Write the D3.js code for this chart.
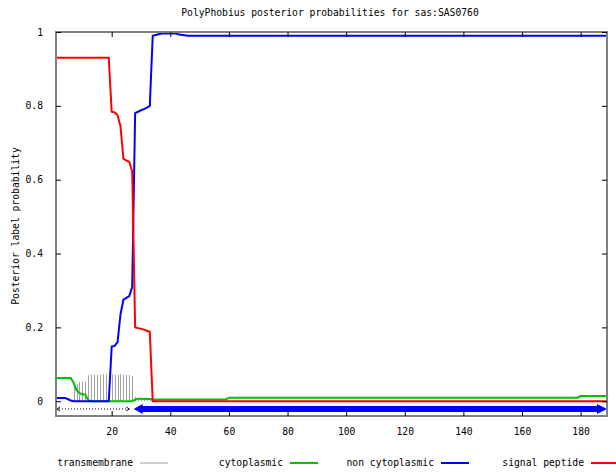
<!DOCTYPE html>
<html>
<head>
<meta charset="utf-8">
<script src="https://cdn.jsdelivr.net/npm/d3@7"></script>
<style>
  html, body { margin: 0; padding: 0; background: #fff; }
  svg { display: block; }
  text { font-family: "DejaVu Sans Mono", "Liberation Mono", monospace; font-size: 9.7px; fill: #000; }
</style>
</head>
<body>
<svg id="chart" width="616" height="472"></svg>
<script>
// PolyPhobius posterior label probabilities along the sequence of sas:SAS0760

const chartTitle = "PolyPhobius posterior probabilities for sas:SAS0760";
const yLabel = "Posterior label probability";

// Tick labels
const xTicks = [20, 40, 60, 80, 100, 120, 140, 160, 180];
const yTicks = [0, 0.2, 0.4, 0.6, 0.8, 1];
const seqLength = 189;

// Signal peptide (red): residue positions and probabilities
const signalPos = [1, 19, 20, 21, 22, 23, 24, 25, 26, 27, 28, 29, 30, 31, 32, 33, 34, 189];
const signalVal = [0.93, 0.93, 0.784, 0.782, 0.775, 0.745, 0.657, 0.652, 0.648, 0.622, 0.2, 0.198, 0.196, 0.194, 0.191, 0.188, 0.0, 0.0];

// Non cytoplasmic (blue)
const nonCytoPos = [1, 4, 5, 6, 7, 19, 20, 21, 22, 23, 24, 25, 26, 27, 28, 29, 30, 31, 32, 33, 34, 35, 37, 42, 43, 46, 189];
const nonCytoVal = [0.009, 0.009, 0.006, 0.002, 0, 0, 0.148, 0.15, 0.16, 0.235, 0.275, 0.28, 0.285, 0.31, 0.78, 0.784, 0.788, 0.791, 0.795, 0.8, 0.99, 0.992, 0.996, 0.996, 0.993, 0.99, 0.99];

// Cytoplasmic (green)
const cytoPos = [1, 6, 7, 8, 9, 10, 11, 12, 13, 27, 28, 29, 33, 34, 59, 60, 179, 180, 189];
const cytoVal = [0.063, 0.063, 0.05, 0.03, 0.022, 0.019, 0.018, 0.003, 0, 0, 0.004, 0.007, 0.006, 0.005, 0.005, 0.0095, 0.0095, 0.014, 0.014];

// Transmembrane (grey impulses), non-zero residues only
const tmPos = [7, 8, 9, 10, 11, 12, 13, 14, 15, 16, 17, 18, 19, 20, 21, 22, 23, 24, 25, 26, 27, 28, 29, 30, 31, 32, 33];
const tmVal = [0.04, 0.046, 0.053, 0.054, 0.054, 0.07, 0.072, 0.072, 0.072, 0.072, 0.072, 0.072, 0.072, 0.072, 0.072, 0.072, 0.072, 0.072, 0.072, 0.071, 0.068, 0.012, 0.009, 0.007, 0.006, 0.006, 0.005];

// Predicted topology segments drawn under the curves
const segStart = [1, 27.5];
const segEnd = [26, 189];
const segType = ["signal", "noncyto"];

// Legend
const legendNames = ["transmembrane", "cytoplasmic", "non cytoplasmic", "signal peptide"];
const legendColors = ["#a0a0a0", "#00c000", "#0000ff", "#ff0000"];

const svg = d3.select("#chart");
const plotL = 56, plotR = 607, plotT = 32, plotB = 416;

const x = d3.scaleLinear().domain([1, seqLength]).range([plotL, plotR]);
const y = d3.scaleLinear().domain([-0.04, 1]).range([plotB, plotT]);

svg.append("defs").append("clipPath").attr("id", "plotClip")
  .append("rect").attr("x", plotL).attr("y", plotT).attr("width", plotR - plotL).attr("height", plotB - plotT);

// Title
svg.append("text").attr("x", 330).attr("y", 16).attr("text-anchor", "middle").text(chartTitle);

// Y axis label
svg.append("text")
  .attr("transform", "translate(19,226) rotate(-90)")
  .attr("text-anchor", "middle")
  .text(yLabel);

const plot = svg.append("g").attr("clip-path", "url(#plotClip)");

// Transmembrane impulses
plot.selectAll("line.tm").data(tmPos.map((p, i) => [p, tmVal[i]])).enter()
  .append("line").attr("class", "tm")
  .attr("x1", d => Math.round(x(d[0])) + 0.5).attr("x2", d => Math.round(x(d[0])) + 0.5)
  .attr("y1", y(0)).attr("y2", d => y(d[1]))
  .attr("stroke", legendColors[0]).attr("stroke-width", 1);

const line = d3.line().x(d => x(d[0])).y(d => y(d[1]));
const series = [
  [cytoPos, cytoVal, legendColors[1]],
  [nonCytoPos, nonCytoVal, legendColors[2]],
  [signalPos, signalVal, legendColors[3]]
];
series.forEach(([pos, val, col]) => {
  plot.append("path")
    .datum(pos.map((p, i) => [p, val[i]]))
    .attr("d", line)
    .attr("fill", "none")
    .attr("stroke", col)
    .attr("stroke-width", 2)
    .attr("stroke-linejoin", "miter");
});

// Topology segments
const segY = y(-0.021);
segType.forEach((t, i) => {
  const x0 = x(segStart[i]), x1 = x(segEnd[i]);
  if (t === "signal") {
    plot.append("line").attr("x1", x0).attr("x2", x1).attr("y1", segY).attr("y2", segY)
      .attr("stroke", "#000").attr("stroke-width", 1).attr("stroke-dasharray", "1,2");
    plot.append("path").attr("d", `M${x0 + 4},${segY - 2}L${x0 + 1},${segY}L${x0 + 4},${segY + 2}`)
      .attr("fill", "none").attr("stroke", "#000").attr("stroke-width", 1);
    plot.append("path").attr("d", `M${x1 - 3},${segY - 2}L${x1},${segY}L${x1 - 3},${segY + 2}`)
      .attr("fill", "none").attr("stroke", "#000").attr("stroke-width", 1);
  } else {
    plot.append("line").attr("x1", x0 + 6).attr("x2", x1 - 6).attr("y1", segY).attr("y2", segY)
      .attr("stroke", "#0000ff").attr("stroke-width", 6);
    plot.append("path").attr("d", `M${x0},${segY}L${x0 + 9},${segY - 5}L${x0 + 9},${segY + 5}Z`)
      .attr("fill", "#0000ff");
    plot.append("path").attr("d", `M${x1},${segY}L${x1 - 10},${segY - 5}L${x1 - 10},${segY + 5}Z`)
      .attr("fill", "#0000ff");
  }
});

// Frame
svg.append("rect").attr("x", plotL).attr("y", plotT).attr("width", plotR - plotL).attr("height", plotB - plotT)
  .attr("fill", "none").attr("stroke", "#808080").attr("stroke-width", 2);

// Axes with inward ticks (mirrored on top and right)
const yFmt = d => (d === 0 ? "0" : d === 1 ? "1" : d3.format(".1f")(d));
const styleAxis = g => {
  g.select(".domain").remove();
  g.attr("font-family", null).attr("font-size", null);
  g.selectAll(".tick line").attr("stroke", "#000");
  g.selectAll(".tick text").attr("fill", "#000");
};
svg.append("g").attr("transform", `translate(0,${plotB})`)
  .call(d3.axisBottom(x).tickValues(xTicks).tickSize(-5).tickPadding(12).tickFormat(d3.format("d")))
  .call(styleAxis);
svg.append("g").attr("transform", `translate(0,${plotT})`)
  .call(d3.axisTop(x).tickValues(xTicks).tickSize(-5).tickFormat(""))
  .call(styleAxis);
svg.append("g").attr("transform", `translate(${plotL},0)`)
  .call(d3.axisLeft(y).tickValues(yTicks).tickSize(-5).tickPadding(13).tickFormat(yFmt))
  .call(styleAxis);
svg.append("g").attr("transform", `translate(${plotR},0)`)
  .call(d3.axisRight(y).tickValues(yTicks).tickSize(-5).tickFormat(""))
  .call(styleAxis);

// Legend
const legendTextEnd = [133, 283, 434, 584];
const legendY = 463;
legendNames.forEach((name, i) => {
  const g = svg.append("g");
  g.append("text").attr("x", legendTextEnd[i]).attr("y", legendY).attr("dy", "0.35em")
    .attr("text-anchor", "end").text(name);
  g.append("line").attr("x1", legendTextEnd[i] + 7).attr("x2", legendTextEnd[i] + 35)
    .attr("y1", legendY).attr("y2", legendY)
    .attr("stroke", legendColors[i]).attr("stroke-width", i === 0 ? 1 : 2);
});
</script>
</body>
</html>
